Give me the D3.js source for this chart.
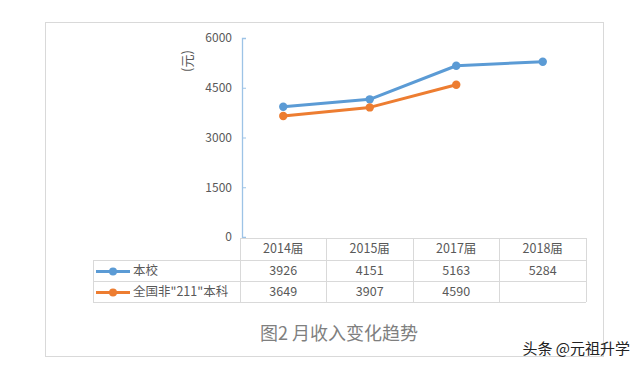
<!DOCTYPE html>
<html><head><meta charset="utf-8">
<script src="https://cdn.jsdelivr.net/npm/d3@7"></script>
<style>body{margin:0;background:#fff}svg{display:block}</style>
</head><body>
<svg id="c" width="640" height="367"></svg>
<script>
const categories = ["2014届","2015届","2017届","2018届"];
const seriesNames = ["本校","全国非\"211\"本科"];
const schoolValues = [3926,4151,5163,5284];
const nationalValues = [3649,3907,4590,null];
const yTicks = [0,1500,3000,4500,6000];
const colors = ["#5B9BD5","#ED7D31"];
const series = [schoolValues, nationalValues];

const svg = d3.select("#c");
const font = "'Noto Sans CJK SC','Noto Sans',sans-serif";
const textCol = "#595959";
const gridCol = "#d9d9d9";

// outer frame
svg.append("rect").attr("x",45.5).attr("y",22.5).attr("width",558).attr("height",334)
  .attr("fill","#fff").attr("stroke","#d9d9d9");

const x0 = 240, x1 = 586;
const x = d3.scaleBand().domain(categories).range([x0,x1]);
const y = d3.scaleLinear().domain([0,6000]).range([237,38]);

// y axis
const yAxis = d3.axisLeft(y).tickValues(yTicks).tickFormat(d3.format("d")).tickSize(-4).tickPadding(10);
const ga = svg.append("g").attr("transform",`translate(${x0+2},0)`).call(yAxis);
ga.select(".domain").attr("stroke","#9dc3e6").attr("stroke-width",1.3);
ga.selectAll(".tick line").attr("stroke","#9dc3e6");
ga.selectAll(".tick text").attr("fill",textCol).attr("font-size",12).attr("font-family",font);

// y axis title
svg.append("text").attr("transform","translate(188,61) rotate(-90)")
  .attr("text-anchor","middle").attr("dominant-baseline","middle")
  .attr("fill",textCol).attr("font-size",13).attr("font-family",font).text("(元)");

// lines
const line = d3.line().defined(d=>d!=null)
  .x((d,i)=>x(categories[i])+x.bandwidth()/2).y(d=>y(d));
series.forEach((vals,si)=>{
  svg.append("path").datum(vals).attr("d",line).attr("fill","none")
    .attr("stroke",colors[si]).attr("stroke-width",3).attr("stroke-linejoin","round");
  svg.selectAll(null).data(vals.map((v,i)=>({v,i})).filter(d=>d.v!=null)).enter()
    .append("circle").attr("cx",d=>x(categories[d.i])+x.bandwidth()/2).attr("cy",d=>y(d.v))
    .attr("r",4.2).attr("fill",colors[si]);
});

// data table
const rowY = [238,260,281,302];
const tl = 93;
const tg = svg.append("g").attr("stroke",gridCol).attr("stroke-width",1).attr("shape-rendering","crispEdges");
tg.append("line").attr("x1",x0).attr("x2",x1).attr("y1",rowY[0]).attr("y2",rowY[0]);
[1,2,3].forEach(k=>tg.append("line").attr("x1",tl).attr("x2",x1).attr("y1",rowY[k]).attr("y2",rowY[k]));
tg.append("line").attr("x1",tl).attr("x2",tl).attr("y1",rowY[1]).attr("y2",rowY[3]);
categories.forEach(c=>tg.append("line").attr("x1",x(c)).attr("x2",x(c)).attr("y1",rowY[0]).attr("y2",rowY[3]));
tg.append("line").attr("x1",x1).attr("x2",x1).attr("y1",rowY[0]).attr("y2",rowY[3]);

categories.forEach(c=>svg.append("text").attr("x",x(c)+x.bandwidth()/2).attr("y",(rowY[0]+rowY[1])/2+1)
  .attr("text-anchor","middle").attr("dominant-baseline","middle").attr("fill",textCol)
  .attr("font-size",12.5).attr("font-family",font).text(c));

series.forEach((vals,si)=>{
  const cy = (rowY[si+1]+rowY[si+2])/2+1;
  svg.append("line").attr("x1",96).attr("x2",130).attr("y1",cy).attr("y2",cy)
    .attr("stroke",colors[si]).attr("stroke-width",3);
  svg.append("circle").attr("cx",113).attr("cy",cy).attr("r",4).attr("fill",colors[si]);
  svg.append("text").attr("x",133).attr("y",cy).attr("dominant-baseline","middle")
    .attr("fill",textCol).attr("font-size",12.5).attr("font-family",font).text(seriesNames[si]);
  vals.forEach((v,i)=>{ if(v==null) return;
    svg.append("text").attr("x",x(categories[i])+x.bandwidth()/2).attr("y",cy)
      .attr("text-anchor","middle").attr("dominant-baseline","middle").attr("fill",textCol)
      .attr("font-size",12.5).attr("font-family",font).text(v);
  });
});

// title
svg.append("text").attr("x",339).attr("y",335).attr("text-anchor","middle").attr("dominant-baseline","middle")
  .attr("fill","#7f7f7f").attr("font-size",18).attr("font-family",font).text("图2 月收入变化趋势");

// watermark
svg.append("text").attr("x",630).attr("y",350).attr("text-anchor","end").attr("dominant-baseline","middle")
  .attr("fill","#222").attr("font-size",15).attr("font-family",font).text("头条 @元祖升学");
</script>
</body></html>
